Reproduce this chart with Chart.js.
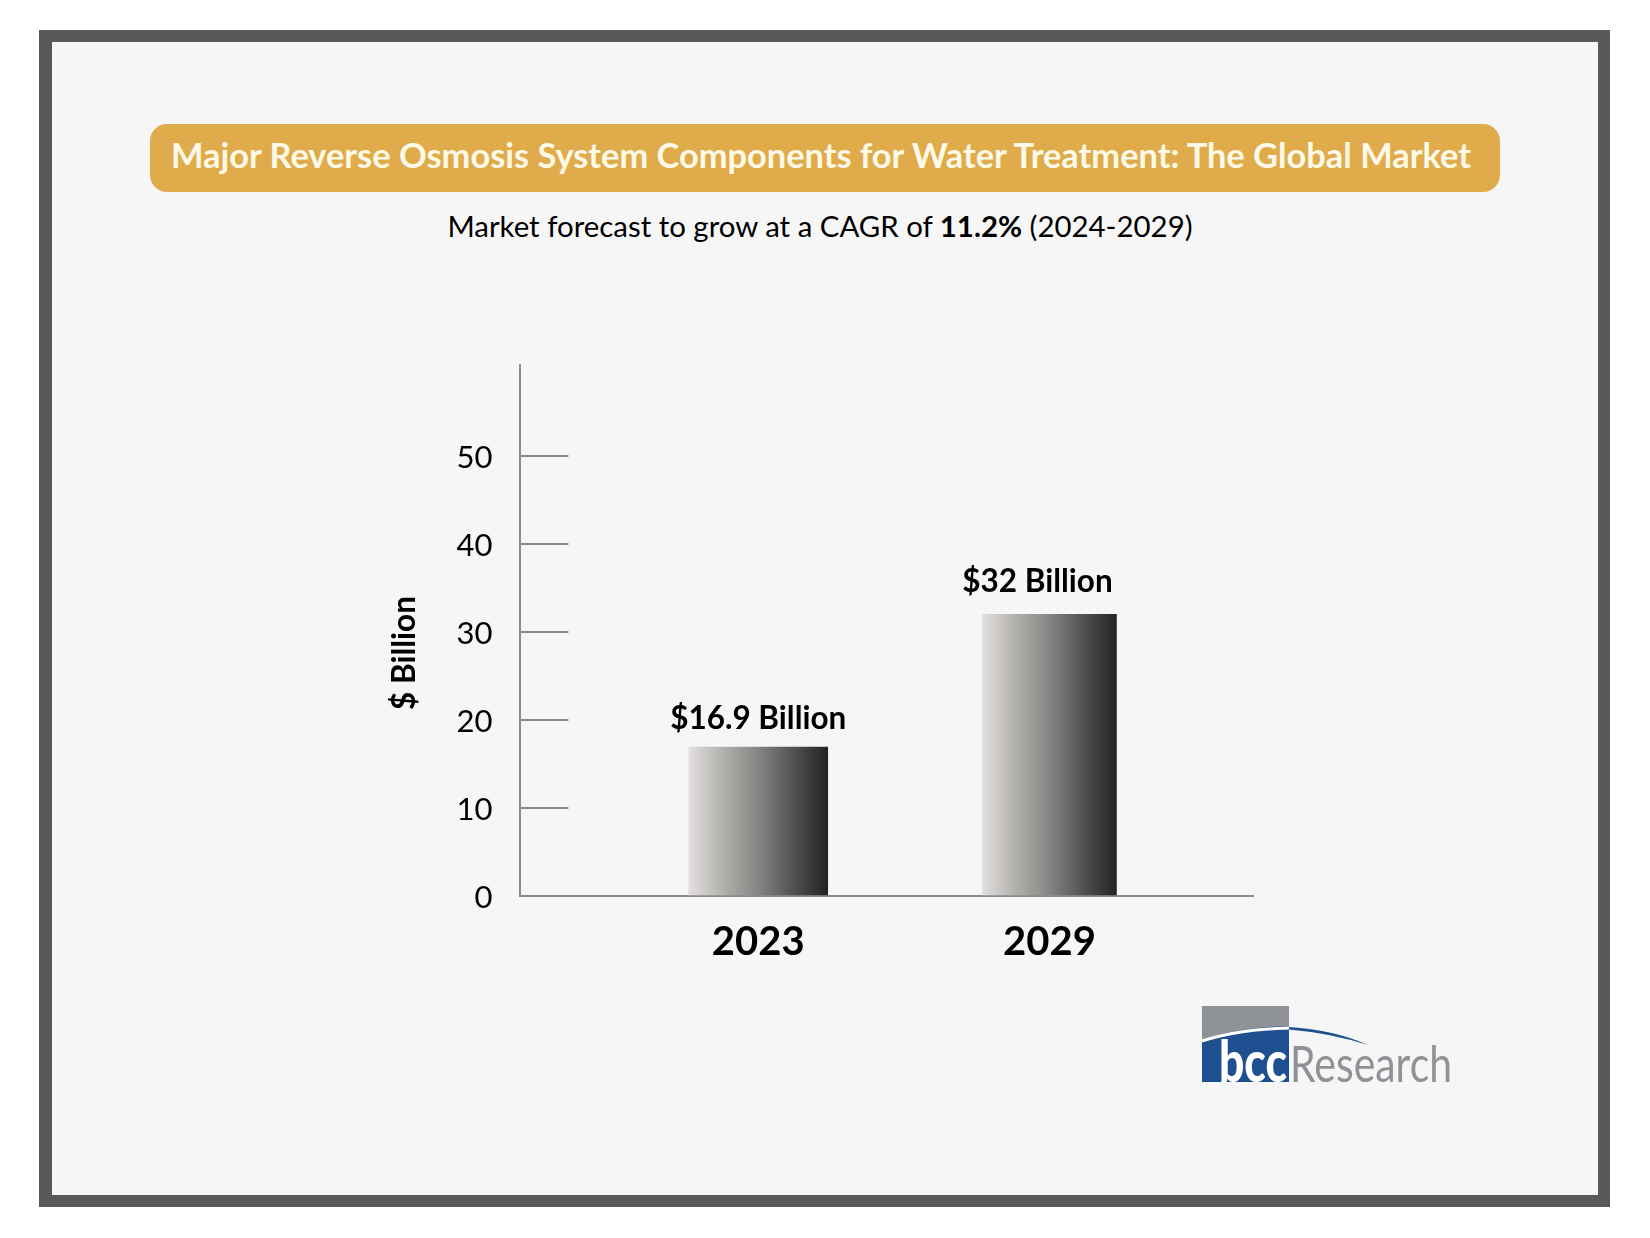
<!DOCTYPE html>
<html>
<head>
<meta charset="utf-8">
<title>Major Reverse Osmosis System Components for Water Treatment</title>
<script src="https://cdn.jsdelivr.net/npm/chart.js@4"></script>
<style>
  html, body { margin: 0; padding: 0; background: #fff; }
  body { width: 1650px; height: 1238px; position: relative; overflow: hidden; font-family: Lato, sans-serif; }
  #frame { position: absolute; left: 39px; top: 30px; width: 1546px; height: 1153px; border: 12px solid #58595b; border-left-width: 13px; background: #f6f6f6; }
  #banner { position: absolute; left: 150px; top: 124px; width: 1350px; height: 68px; line-height: 61px; border-radius: 17px; background: #e0ac4b; color: #fff9e8; font-weight: 700; font-size: 34.4px; text-align: center; white-space: nowrap; text-indent: -8px; }
  #subtitle { position: absolute; left: 0; width: 1640px; top: 208px; line-height: 36px; font-size: 29.4px; color: #000; text-align: center; }
  #chart { position: absolute; left: 0; top: 0; }
  #logo { position: absolute; left: 1190px; top: 995px; }
</style>
</head>
<body>
<div id="frame"></div>
<div id="banner">Major Reverse Osmosis System Components for Water Treatment: The Global Market</div>
<div id="subtitle">Market forecast to grow at a CAGR of <b>11.2%</b> (2024-2029)</div>
<canvas id="chart" width="1650" height="1238"></canvas>

<svg id="logo" width="280" height="100" viewBox="0 0 280 100">
  <rect x="12" y="11" width="87" height="33" fill="#8f9296"/>
  <path d="M12 45 Q50 32 99 31 L99 87 L12 87 Z" fill="#1d4f91"/>
  <path d="M12 46 Q50 34 99 33" fill="none" stroke="#fff" stroke-width="3"/>
  <path d="M99 32 Q145 35 178 50 Q140 38 99 34.5 Z" fill="#1d4f91"/>
  <text x="29" y="87" font-family="Lato" font-weight="900" font-size="58" fill="#fff" textLength="68" lengthAdjust="spacingAndGlyphs">bcc</text>
  <text x="100" y="87" font-family="Lato" font-size="50" fill="#8f9296" textLength="162" lengthAdjust="spacingAndGlyphs">Research</text>
</svg>

<script>
// CHART DATA
const categories = [2023, 2029];
const values = [16.9, 32];
const valueLabels = ["$16.9 Billion", "$32 Billion"];
const yTickValues = [0, 10, 20, 30, 40, 50];
const yAxisTitle = "$ Billion";

// bars are not the same width in the original
const barWidths = [139, 134];
const labelShifts = [0, -12];
const labelRises = [28, 32];

const AXIS_GREY = "#8b8c90";

function barGradient(ctx, i) {
  const chart = ctx.chart;
  if (!chart.chartArea) return "#888";
  const cx = chart.scales.x.getPixelForValue(categories[i]);
  const g = chart.ctx.createLinearGradient(cx - barWidths[i] / 2, 0, cx + barWidths[i] / 2, 0);
  g.addColorStop(0, "#e2dfde");
  g.addColorStop(0.25, "#b2b0ad");
  g.addColorStop(0.5, "#868583");
  g.addColorStop(0.75, "#525252");
  g.addColorStop(1, "#232323");
  return g;
}

// labels above the bars + the y axis title
const barText = {
  id: "barText",
  afterDraw(chart) {
    const { ctx, scales } = chart;
    ctx.save();
    ctx.fillStyle = "#000";
    ctx.textAlign = "center";
    ctx.textBaseline = "middle";
    ctx.font = "700 31.5px Lato";
    categories.forEach((year, i) => {
      const x = scales.x.getPixelForValue(year) + labelShifts[i];
      const y = scales.y.getPixelForValue(values[i]) - labelRises[i];
      ctx.fillText(valueLabels[i], x, y);
    });
    ctx.translate(405, 653);
    ctx.rotate(-Math.PI / 2);
    ctx.fillText(yAxisTitle, 0, 0);
    ctx.restore();
  },
};

new Chart(document.getElementById("chart"), {
  type: "bar",
  data: {
    datasets: categories.map((year, i) => ({
      data: [{ x: year, y: values[i] }],
      barThickness: barWidths[i],
      grouped: false,
      borderWidth: 0,
      backgroundColor: (ctx) => barGradient(ctx, i),
    })),
  },
  plugins: [barText],
  options: {
    responsive: false,
    animation: false,
    devicePixelRatio: 1,
    layout: { padding: { left: 320.4, top: 365, right: 396.7, bottom: 242 } },
    plugins: { legend: { display: false }, tooltip: { enabled: false } },
    scales: {
      x: {
        type: "linear",
        offset: false,
        min: 2018.1,
        max: 2033.2,
        afterBuildTicks: (scale) => {
          scale.ticks = categories.map((value) => ({ value }));
        },
        afterFit: (scale) => {
          scale.height = 100;
        },
        grid: { display: false },
        border: { color: AXIS_GREY, width: 2 },
        ticks: {
          autoSkip: false,
          maxRotation: 0,
          padding: 14,
          color: "#000",
          font: { family: "Lato", size: 40, weight: "700" },
          callback: (v) => String(v),
        },
      },
      y: {
        min: 0,
        max: 60.3,
        afterBuildTicks: (scale) => {
          scale.ticks = yTickValues.map((value) => ({ value }));
        },
        afterFit: (scale) => {
          scale.width = 200;
        },
        grid: {
          drawOnChartArea: false,
          tickLength: -48,
          color: AXIS_GREY,
          lineWidth: 2,
        },
        border: { color: AXIS_GREY, width: 2 },
        ticks: {
          padding: 76,
          labelOffset: 2,
          color: "#000",
          font: { family: "Lato", size: 31 },
          callback: (v) => String(v),
        },
      },
    },
  },
});
</script>
</body>
</html>
